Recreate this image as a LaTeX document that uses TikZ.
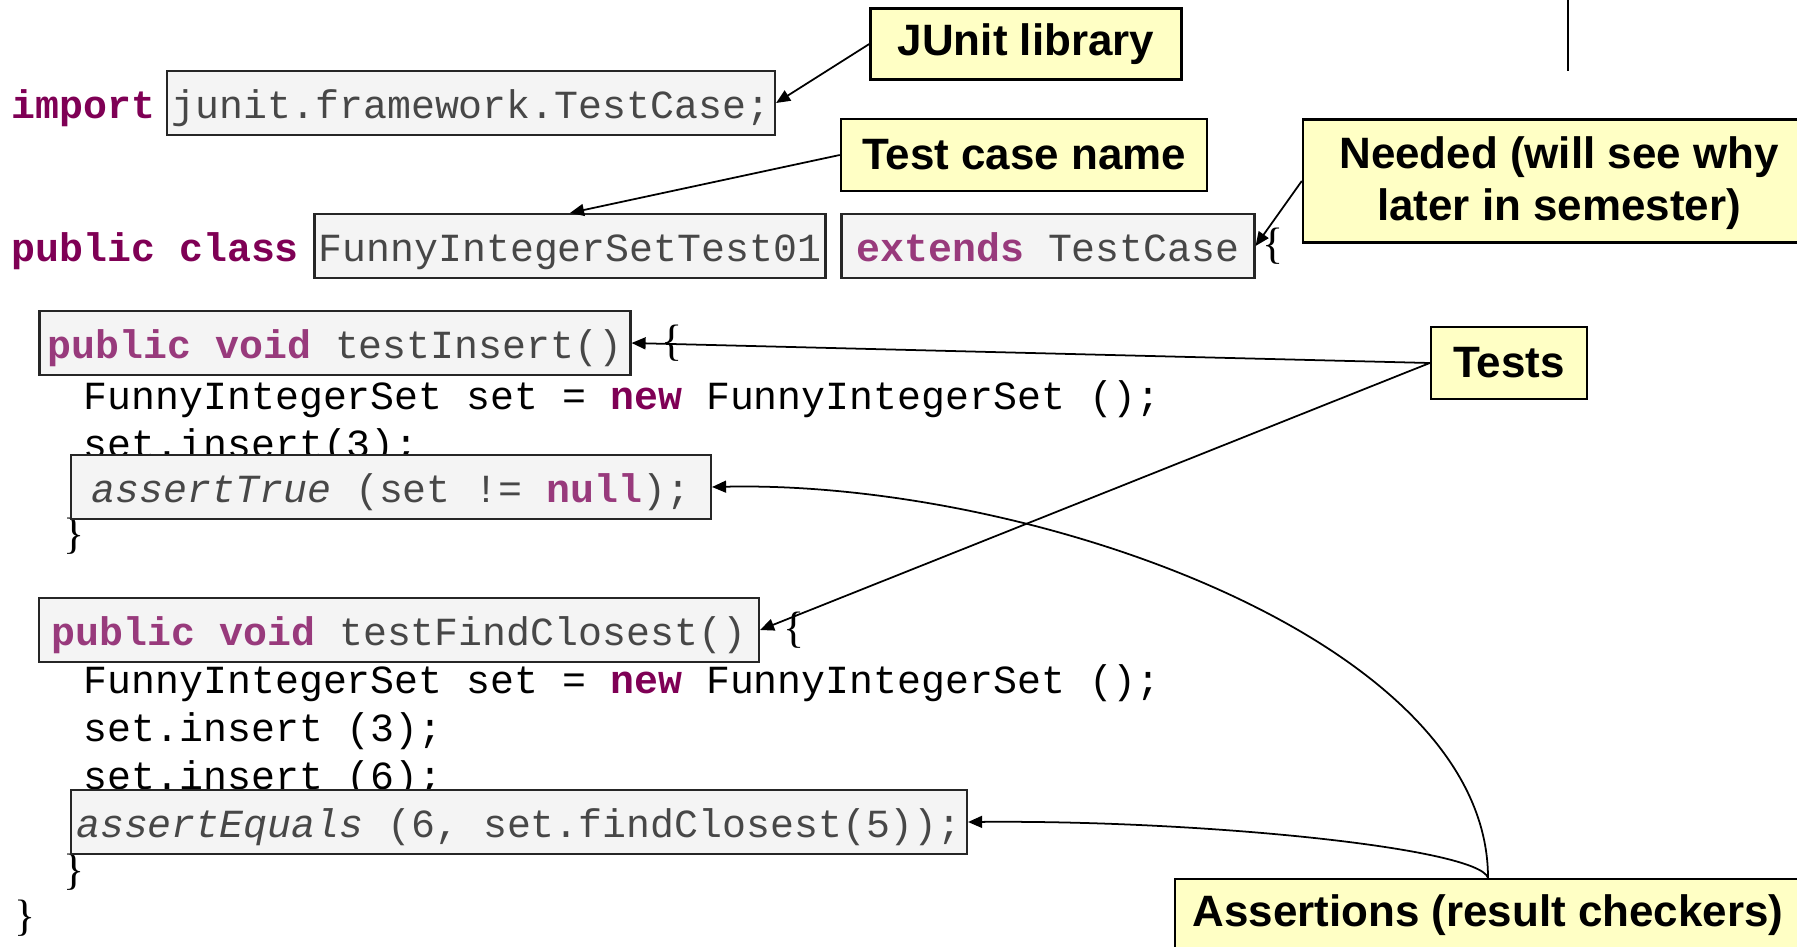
\documentclass[tikz,border=0pt]{standalone}
\usepackage{fontspec}
\usepackage{tikz}
\usetikzlibrary{arrows.meta}

\newfontfamily\codefont{Liberation Mono}
\newfontfamily\notefont{Liberation Sans}
\newfontfamily\bracefont{Liberation Serif}

\definecolor{kwdark}{RGB}{127,0,85}
\definecolor{kwsoft}{RGB}{152,58,124}
\definecolor{notefill}{RGB}{255,255,197}
\definecolor{boxfill}{RGB}{244,244,244}

\newcommand{\keyw}[1]{{\bfseries\color{kwdark}#1}}
\newcommand{\keywsoft}[1]{{\bfseries\color{kwsoft}#1}}

\begin{document}
\begin{tikzpicture}[x=0.1mm, y=-0.1mm,
        code/.style={anchor=west, inner sep=0pt, font=\codefont\fontsize{11.35}{13}\selectfont, text height=10pt, text depth=1.1pt},
        codebox/.style={code, anchor=center, draw=black!85, fill=boxfill, line width=0.6pt, minimum height=6.4mm, text=black!72},
        bracetext/.style={anchor=west, inner sep=0pt, font=\bracefont\fontsize{12.5}{14}\selectfont},
        note/.style={draw, fill=notefill, line width=0.7pt, inner sep=0pt, align=center, font=\notefont\bfseries\fontsize{12.5}{14.8}\selectfont},
        arr/.style={line width=0.5pt, -{Triangle[length=4pt, width=3.4pt]}}]
        \useasboundingbox (0,0) rectangle (1797,946);
        \draw[line width=0.5pt] (1568,0) -- (1568,71);

        % plain source lines
        \node[code] at (11,103) (import) {\keyw{import}};
        \node[code] at (11,246) (pubcls) {\keyw{public class}};
        \node[code] at (83,394) (new1) {FunnyIntegerSet set = \keyw{new} FunnyIntegerSet ();};
        \node[code] at (83,442) (ins1) {set.insert(3);};
        \node[bracetext] at (63,536) (end1) {\}};
        \node[code] at (83,678) (new2) {FunnyIntegerSet set = \keyw{new} FunnyIntegerSet ();};
        \node[code] at (83,726) (ins3) {set.insert (3);};
        \node[code] at (83,774) (ins6) {set.insert (6);};
        \node[bracetext] at (63,872) (end2) {\}};
        \node[bracetext] at (14,918) (endcls) {\}};

        % highlighted parts
        \node[codebox, minimum width=60.8mm] at (471,103) (imp) {junit.framework.TestCase;};
        \node[codebox, minimum width=51.1mm] at (570,246) (cls) {FunnyIntegerSetTest01};
        \node[codebox, minimum width=41.3mm] at (1048,246) (ext) {\keywsoft{extends} TestCase};
        \node[bracetext] at (1262,246) (open0) {\{};
        \node[codebox, minimum width=59.1mm] at (335,343) (tins) {\keywsoft{public void} testInsert()};
        \node[bracetext] at (661,343) (open1) {\{};
        \node[codebox, minimum width=64mm] at (391,487) (atrue) {\textit{assertTrue} (set != \keywsoft{null});};
        \node[codebox, minimum width=72mm] at (399,630) (tfc) {\keywsoft{public void} testFindClosest()};
        \node[bracetext] at (783,630) (open2) {\{};
        \node[codebox, minimum width=89.6mm] at (519,822) (aeq) {\textit{assertEquals} (6, set.findClosest(5));};

        % callouts
        \node[note, minimum width=31.1mm, minimum height=7.1mm] at (1026,44) (jlib) {JUnit library};
        \node[note, minimum width=36.6mm, minimum height=7.2mm] at (1024,155) (tcn) {Test case name};
        \node[note, minimum width=51.2mm, minimum height=12.3mm] at (1559,181) (need) {\strut Needed (will see why\\later in semester)};
        \node[note, minimum width=15.6mm, minimum height=7.2mm] at (1509,363) (tests) {Tests};
        \node[note, minimum width=62.6mm, minimum height=7.2mm] at (1488,915) (asrt) {Assertions (result checkers)};

        \draw[arr] (jlib.west) -- (imp.east);
        \draw[arr] (tcn.west) -- (cls.north);
        \draw[arr] (need.west) -- (ext.east);
        \draw[arr] (tests.west) -- (tins.east);
        \draw[arr] (tests.west) -- (tfc.east);
        \draw[arr] (asrt.north) .. controls (1488,640) and (1030,480) .. (atrue.east);
        \draw[arr] (asrt.north) .. controls (1478,848) and (1203,820) .. (aeq.east);
    \end{tikzpicture}
\end{document}
